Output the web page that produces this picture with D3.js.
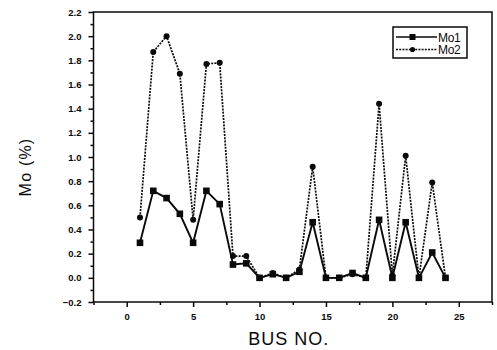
<!DOCTYPE html>
<html>
<head>
<meta charset="utf-8">
<script src="https://cdnjs.cloudflare.com/ajax/libs/d3/7.8.5/d3.min.js"></script>
<style>
  body { margin: 0; background: #fff; }
  svg { display: block; font-family: "Liberation Sans", Arial, sans-serif; }
</style>
</head>
<body>
<div id="chart"></div>
<script>
// values
const busNo = [1, 2, 3, 4, 5, 6, 7, 8, 9, 10, 11, 12, 13, 14, 15, 16, 17, 18, 19, 20, 21, 22, 23, 24]
const mo1 = [0.29, 0.72, 0.66, 0.53, 0.29, 0.72, 0.61, 0.11, 0.12, 0.0, 0.03, 0.0, 0.05, 0.46, 0.0, 0.0, 0.04, 0.0, 0.48, 0.0, 0.46, 0.0, 0.21, 0.0]
const mo2 = [0.50, 1.87, 2.00, 1.69, 0.48, 1.77, 1.78, 0.18, 0.18, 0.0, 0.04, 0.0, 0.07, 0.92, 0.0, 0.0, 0.03, 0.0, 1.44, 0.02, 1.01, 0.0, 0.79, 0.0]
const xTicks = [0, 5, 10, 15, 20, 25]
const xMinor = [-2.5, 2.5, 7.5, 12.5, 17.5, 22.5, 27.5]
const yTicks = [-0.2, 0.0, 0.2, 0.4, 0.6, 0.8, 1.0, 1.2, 1.4, 1.6, 1.8, 2.0, 2.2]
const yMinor = [-0.1, 0.1, 0.3, 0.5, 0.7, 0.9, 1.1, 1.3, 1.5, 1.7, 1.9, 2.1]
const seriesNames = ["Mo1", "Mo2"]

const width = 497
const height = 350
const margin = { top: 12, right: 5, bottom: 48, left: 93.5 }
const boundedWidth = width - margin.left - margin.right
const boundedHeight = height - margin.top - margin.bottom
const ink = "#0a0a0a"

const svg = d3.select("#chart").append("svg")
    .attr("width", width)
    .attr("height", height)

const g = svg.append("g")
    .attr("transform", `translate(${margin.left},${margin.top})`)

const xScale = d3.scaleLinear().domain([-2.5, 27.5]).range([0, boundedWidth])
const yScale = d3.scaleLinear().domain([-0.2, 2.2]).range([boundedHeight, 0])

// axes (major + minor ticks, outward)
g.append("g")
    .attr("transform", `translate(0,${boundedHeight})`)
    .call(d3.axisBottom(xScale).tickValues(xTicks).tickSize(5).tickPadding(6).tickFormat(d3.format("d")))
g.append("g")
    .attr("transform", `translate(0,${boundedHeight})`)
    .call(d3.axisBottom(xScale).tickValues(xMinor).tickSize(3).tickFormat(""))
g.append("g")
    .call(d3.axisLeft(yScale).tickValues(yTicks).tickSize(5).tickPadding(7).tickFormat(d3.format(".1f")))
g.append("g")
    .call(d3.axisLeft(yScale).tickValues(yMinor).tickSize(3).tickFormat(""))

g.selectAll(".domain").remove()
g.selectAll(".tick line").attr("stroke", ink).attr("stroke-width", 1.5)
g.selectAll(".tick text")
    .attr("fill", ink)
    .style("font-size", "9.5px")
    .style("font-weight", "bold")

// frame
g.append("rect")
    .attr("width", boundedWidth)
    .attr("height", boundedHeight)
    .attr("fill", "none")
    .attr("stroke", ink)
    .attr("stroke-width", 1.5)

// axis titles
svg.append("text")
    .attr("x", margin.left + boundedWidth * 0.49)
    .attr("y", 345)
    .attr("text-anchor", "middle")
    .attr("fill", ink)
    .style("font-size", "18px")
    .style("letter-spacing", "1px")
    .text("BUS NO.")

svg.append("text")
    .attr("transform", "translate(31,167) rotate(-90)")
    .attr("text-anchor", "middle")
    .attr("fill", ink)
    .style("font-size", "16px")
    .style("letter-spacing", "1.2px")
    .text("Mo (%)")

// series
const pts1 = busNo.map((b, i) => [b, mo1[i]])
const pts2 = busNo.map((b, i) => [b, mo2[i]])
const line = d3.line().x(d => xScale(d[0])).y(d => yScale(d[1]))

g.append("path")
    .datum(pts2)
    .attr("d", line)
    .attr("fill", "none")
    .attr("stroke", ink)
    .attr("stroke-width", 1.7)
    .attr("stroke-dasharray", "2,1.2")

g.append("path")
    .datum(pts1)
    .attr("d", line)
    .attr("fill", "none")
    .attr("stroke", ink)
    .attr("stroke-width", 1.9)

g.selectAll(".m1")
  .data(pts1)
  .join("rect")
    .attr("class", "m1")
    .attr("x", d => xScale(d[0]) - 3.3)
    .attr("y", d => yScale(d[1]) - 3.3)
    .attr("width", 6.6)
    .attr("height", 6.6)
    .attr("fill", ink)

g.selectAll(".m2")
  .data(pts2)
  .join("circle")
    .attr("class", "m2")
    .attr("cx", d => xScale(d[0]))
    .attr("cy", d => yScale(d[1]))
    .attr("r", 3)
    .attr("fill", ink)

// legend
const legend = svg.append("g").attr("transform", "translate(393,27)")
legend.append("rect")
    .attr("width", 74)
    .attr("height", 31)
    .attr("fill", "#fff")
    .attr("stroke", ink)
    .attr("stroke-width", 1.5)

seriesNames.forEach((name, i) => {
  const row = legend.append("g").attr("transform", `translate(0,${10 + i * 12.5})`)
  row.append("line")
      .attr("x1", 3).attr("x2", 44)
      .attr("stroke", ink)
      .attr("stroke-width", 1.5)
      .attr("stroke-dasharray", i === 1 ? "2,1.2" : null)
  if (i === 0) {
    row.append("rect").attr("x", 16.5).attr("y", -3).attr("width", 6).attr("height", 6).attr("fill", ink)
  } else {
    row.append("circle").attr("cx", 19.5).attr("r", 2.6).attr("fill", ink)
  }
  row.append("text")
      .attr("x", 45)
      .attr("y", 4.5)
      .attr("fill", ink)
      .style("font-size", "12px")
      .style("letter-spacing", "-0.3px")
      .text(name)
})
</script>
</body>
</html>
